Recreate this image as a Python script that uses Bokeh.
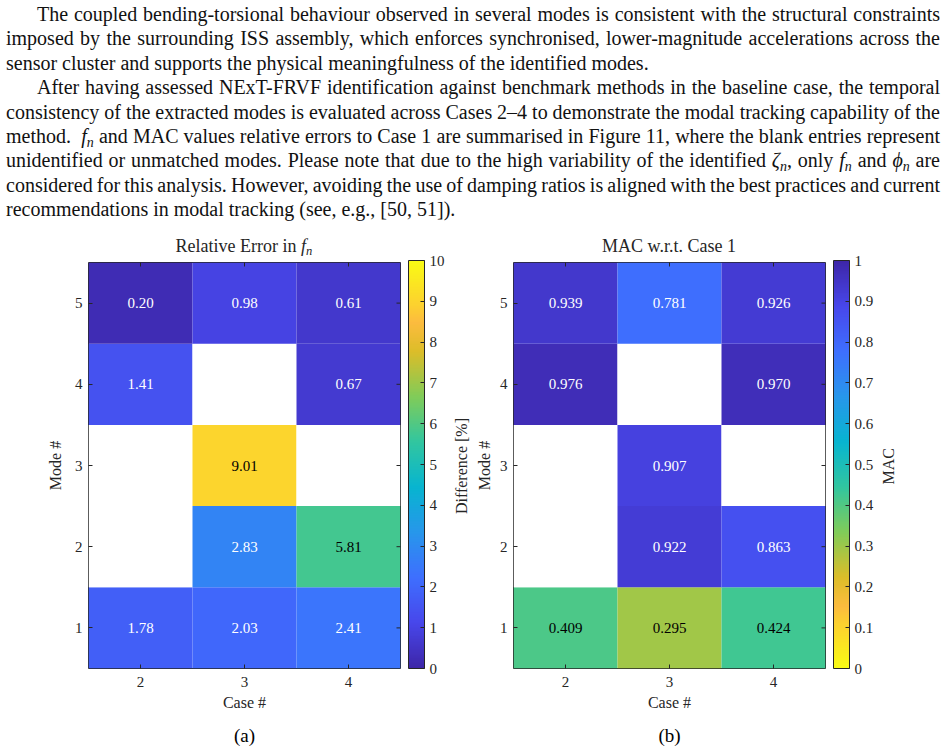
import numpy as np
from bokeh.plotting import figure
from bokeh.models import (ColumnDataSource, LinearColorMapper, ColorBar, FixedTicker,
                          Title, Div, Range1d)
from bokeh.layouts import column, row
from bokeh.embed import file_html
from bokeh.resources import INLINE
from bokeh.core.properties import value

# ---------------- data ----------------
cases = [2, 3, 4]
modes = [1, 2, 3, 4, 5]
# Relative error in f_n [%] per mode (columns = Case 2, 3, 4); None = unidentified
err_mode1 = [1.78, 2.03, 2.41]
err_mode2 = [None, 2.83, 5.81]
err_mode3 = [None, 9.01, None]
err_mode4 = [1.41, None, 0.67]
err_mode5 = [0.20, 0.98, 0.61]
# MAC w.r.t. Case 1
mac_mode1 = [0.409, 0.295, 0.424]
mac_mode2 = [None, 0.922, 0.863]
mac_mode3 = [None, 0.907, None]
mac_mode4 = [0.976, None, 0.970]
mac_mode5 = [0.939, 0.781, 0.926]

err_ticks = [0, 1, 2, 3, 4, 5, 6, 7, 8, 9, 10]
err_tick_labels = ["0", "1", "2", "3", "4", "5", "6", "7", "8", "9", "10"]
mac_ticks = [0, 0.1, 0.2, 0.3, 0.4, 0.5, 0.6, 0.7, 0.8, 0.9, 1]
mac_tick_labels = ["0", "0.1", "0.2", "0.3", "0.4", "0.5", "0.6", "0.7", "0.8", "0.9", "1"]

FN = "<i>f<sub>n</sub></i>"
paragraph1 = [
    "The coupled bending-torsional behaviour observed in several modes is consistent with the structural constraints",
    "imposed by the surrounding ISS assembly, which enforces synchronised, lower-magnitude accelerations across the",
    "sensor cluster and supports the physical meaningfulness of the identified modes.",
]
paragraph2 = [
    "After having assessed NExT-FRVF identification against benchmark methods in the baseline case, the temporal",
    "consistency of the extracted modes is evaluated across Cases 2&ndash;4 to demonstrate the modal tracking capability of the",
    "method. &nbsp;" + FN + " and MAC values relative errors to Case 1 are summarised in Figure 11, where the blank entries represent",
    "unidentified or unmatched modes. Please note that due to the high variability of the identified <i>&zeta;<sub>n</sub></i>, only " + FN + " and <i>&#981;<sub>n</sub></i> are",
    "considered for this analysis. However, avoiding the use of damping ratios is aligned with the best practices and current",
    "recommendations in modal tracking (see, e.g., [50, 51]).",
]
title_a = "Relative Error in " + FN
title_b = "MAC w.r.t. Case 1"
cbar_title_a = "Difference [%]"
cbar_title_b = "MAC"

# ---------------- style ----------------
FONT = "Liberation Serif"
INK = "#262626"
SUB = '<sub style="font-size:70%;line-height:0;vertical-align:-0.25em">'

# parula-like colormap (style)
_anch_t = [0.0, 1/9, 2/9, 3/9, 4/9, 5/9, 6/9, 7/9, 0.85, 8/9, 1.0]
_anch_c = [(0.2422, 0.1504, 0.6603), (0.2803, 0.2782, 0.9221), (0.2440, 0.4358, 0.9988),
           (0.1540, 0.5902, 0.9218), (0.0297, 0.7082, 0.8163), (0.1938, 0.7758, 0.6251),
           (0.5044, 0.7993, 0.3480), (0.8634, 0.7406, 0.1596), (0.9900, 0.7350, 0.2450),
           (0.9892, 0.8136, 0.1885), (0.9769, 0.9839, 0.0805)]
_tt = np.linspace(0, 1, 256)
_rgb = np.array(_anch_c)
PARULA = ["#%02x%02x%02x" % tuple(int(round(255 * np.interp(t, _anch_t, _rgb[:, k]))) for k in range(3))
          for t in _tt]

TEXT_H = 230
TITLE_H = 18
FIG_H = 754 - TEXT_H - TITLE_H
FRAME_W, FRAME_H = 312, 408
TOP_B = 14


def heatmap(rows, fmt, mapper, black_if, width, left, ylab_standoff, cb_ticks, cb_labels, caption):
    xs, ys, vals, txt, tcol = [], [], [], [], []
    for m, r in zip(modes, rows):
        for c, v in zip(cases, r):
            xs.append(c)
            ys.append(m)
            vals.append(np.nan if v is None else v)
            txt.append("" if v is None else fmt.format(v))
            tcol.append("black" if (v is not None and black_if(v)) else "white")
    src = ColumnDataSource(dict(x=xs, y=ys, v=vals, t=txt, tc=tcol))

    xr = Range1d(cases[0] - 0.5, cases[-1] + 0.5)
    yr = Range1d(modes[0] - 0.5, modes[-1] + 0.5)
    p = figure(width=width, height=FIG_H, x_range=xr, y_range=yr,
               output_backend="svg", toolbar_location=None, title=None,
               min_border_left=left, min_border_right=width - left - FRAME_W,
               min_border_top=TOP_B, min_border_bottom=FIG_H - TOP_B - FRAME_H, margin=0)
    p.rect(x="x", y="y", width=1, height=1, source=src,
           fill_color={"field": "v", "transform": mapper}, line_color=None)
    p.text(x="x", y="y", text="t", text_color="tc", source=src, text_align="center",
           text_baseline="middle", text_font=value(FONT), text_font_size="15px")

    # mirrored inward ticks on top and right edges (box on)
    p.scatter(x=cases, y=[yr.end] * len(cases), marker="dash", angle=np.pi / 2, size=8,
              line_color=INK, line_width=1)
    p.scatter(x=[xr.end] * len(modes), y=modes, marker="dash", size=8,
              line_color=INK, line_width=1)

    p.xgrid.visible = False
    p.ygrid.visible = False
    p.outline_line_color = INK
    p.outline_line_alpha = 1
    p.outline_line_width = 1
    p.background_fill_color = "white"
    p.border_fill_alpha = 0

    p.xaxis.ticker = FixedTicker(ticks=cases)
    p.yaxis.ticker = FixedTicker(ticks=modes)
    for ax in (p.xaxis[0], p.yaxis[0]):
        ax.major_tick_in = 4
        ax.major_tick_out = 0
        ax.minor_tick_line_color = None
        ax.axis_line_color = None
        ax.major_tick_line_color = INK
        ax.major_label_text_font = FONT
        ax.major_label_text_font_size = "15px"
        ax.major_label_text_color = INK
        ax.axis_label_text_font = FONT
        ax.axis_label_text_font_size = "16px"
        ax.axis_label_text_font_style = "normal"
        ax.axis_label_text_color = INK
    p.xaxis.axis_label = "Case #"
    p.yaxis.axis_label = "Mode #"
    p.xaxis.major_label_standoff = 8
    p.xaxis.axis_label_standoff = 4
    p.yaxis.major_label_standoff = 6
    p.yaxis.axis_label_standoff = ylab_standoff

    cb = ColorBar(color_mapper=mapper, ticker=FixedTicker(ticks=cb_ticks),
                  major_label_overrides={t: l for t, l in zip(cb_ticks, cb_labels)},
                  width=16, height=FRAME_H, location=(8, 0), padding=0, margin=0, label_standoff=5,
                  major_tick_in=4, major_tick_out=0, major_tick_line_color=INK,
                  minor_tick_line_color=None, bar_line_color=INK, bar_line_width=1,
                  major_label_text_font=FONT, major_label_text_font_size="15px",
                  major_label_text_color=INK, background_fill_alpha=0)
    p.add_layout(cb, "right")

    p.add_layout(Title(text=caption, align="center", text_font=FONT, text_font_size="19px",
                       text_font_style="normal", text_color="black", standoff=18), "below")
    return p


err_rows = [err_mode1, err_mode2, err_mode3, err_mode4, err_mode5]
mac_rows = [mac_mode1, mac_mode2, mac_mode3, mac_mode4, mac_mode5]

err_mapper = LinearColorMapper(palette=PARULA, low=err_ticks[0], high=err_ticks[-1], nan_color="white")
mac_mapper = LinearColorMapper(palette=PARULA[::-1], low=mac_ticks[0], high=mac_ticks[-1], nan_color="white")

pa = heatmap(err_rows, "{:.2f}", err_mapper, lambda v: v > 5, 453, 88, 8,
             err_ticks, err_tick_labels, "(a)")
pb = heatmap(mac_rows, "{:.3f}", mac_mapper, lambda v: v < 0.5, 410, 42, 4,
             mac_ticks, mac_tick_labels, "(b)")


def title_div(text, left, width):
    html = ('<div style="margin-left:%dpx;width:%dpx;text-align:center;font-family:\'%s\';'
            'font-size:18px;line-height:22px;padding-top:5px;color:%s;white-space:nowrap">%s</div>'
            % (left, FRAME_W, FONT, INK, text)).replace("<sub>", SUB)
    return Div(text=html, width=width, height=TITLE_H, margin=0)


def vertical_div(text, width):
    html = ('<div style="height:%dpx;width:%dpx;display:flex;align-items:center;justify-content:center;'
            'font-family:\'%s\';font-size:16px;color:%s">'
            '<span style="writing-mode:vertical-rl;transform:rotate(180deg);white-space:nowrap">%s</span></div>'
            % (2 * TOP_B + FRAME_H, width, FONT, INK, text))
    return Div(text=html, width=width, height=FIG_H, margin=0)


def line_html(s, justify, first):
    al = "justify" if justify else "left"
    ws = "-2.5px" if justify else "0px"
    ind = "text-indent:31px;" if first else ""
    return ('<div style="height:24.4px;%stext-align:justify;text-align-last:%s;word-spacing:%s">%s</div>'
            % (ind, al, ws, s))


body = []
for para in (paragraph1, paragraph2):
    for i, s in enumerate(para):
        body.append(line_html(s, i < len(para) - 1, i == 0))

html = ('<div style="font-family:\'Liberation Serif\';font-size:20px;line-height:24.4px;color:#111;'
        'width:945px;padding:2px 5px 0 6px;box-sizing:border-box;">' + "".join(body) + "</div>")
html = html.replace("<sub>", SUB)
text_div = Div(text=html, width=945, height=TEXT_H, margin=0)

titles = row(title_div(title_a, 88, 470), title_div(title_b, 43, 475), spacing=0, margin=0)
charts = row(pa, vertical_div(cbar_title_a, 18), pb, vertical_div(cbar_title_b, 16), spacing=0, margin=0)

layout = column(text_div, titles, charts, spacing=0, margin=0)

open("out.html", "w").write(file_html(layout, INLINE))
